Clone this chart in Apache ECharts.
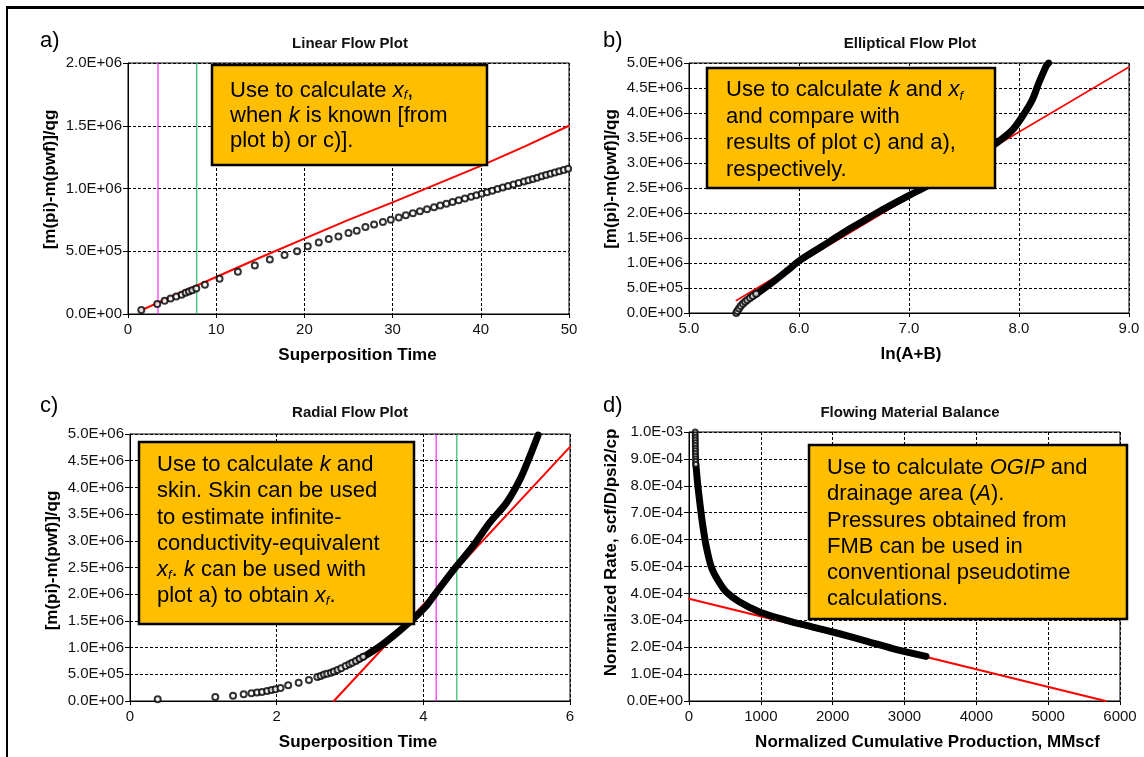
<!DOCTYPE html>
<html>
<head>
<meta charset="utf-8">
<script src="https://cdn.jsdelivr.net/npm/echarts@6/dist/echarts.min.js"></script>
<style>
html,body{margin:0;padding:0;background:#fff;}
#chart{width:1144px;height:757px;}
</style>
</head>
<body>
<div id="chart"></div>
<script>
// ---------------- DATA ----------------
// Panel a) Linear Flow Plot
const aScatterX = [1.51, 3.32, 4.15, 4.83, 5.47, 6.08, 6.53, 6.91, 7.28, 7.74, 8.72, 10.38, 12.46, 14.38, 16.08, 17.75, 19.17, 20.38, 21.63, 22.76, 23.86, 25.0, 25.93, 26.92, 27.9, 28.9, 29.8, 30.7, 31.5, 32.3, 33.1, 33.9, 34.7, 35.4, 36.1, 36.8, 37.5, 38.2, 38.9, 39.5, 40.1, 40.7, 41.3, 41.9, 42.5, 43.1, 43.7, 44.3, 44.9, 45.4, 45.9, 46.4, 46.9, 47.4, 47.9, 48.4, 48.9, 49.4, 49.9];
const aScatterY = [32000, 79000, 106000, 124000, 140000, 153000, 169000, 180000, 190000, 204000, 233000, 280000, 336000, 386000, 434000, 471000, 500000, 540000, 569000, 598000, 617000, 645000, 664000, 693000, 713000, 733000, 751000, 769000, 786000, 802000, 818000, 834000, 850000, 864000, 878000, 893000, 907000, 921000, 935000, 947000, 959000, 971000, 983000, 996000, 1008000, 1020000, 1032000, 1044000, 1056000, 1066000, 1076000, 1086000, 1097000, 1107000, 1117000, 1127000, 1137000, 1147000, 1157000];
const aRedX = [1.5, 5, 10, 15, 20, 25, 30, 35, 40, 45, 50];
const aRedY = [30000, 140000, 295000, 450000, 600000, 750000, 890000, 1035000, 1180000, 1335000, 1500000];
const aMagentaX = 3.4;
const aGreenX = 7.8;
const aXTicks = ['0', '10', '20', '30', '40', '50'];
const aYTicks = ['0.0E+00', '5.0E+05', '1.0E+06', '1.5E+06', '2.0E+06'];

// Panel b) Elliptical Flow Plot
const bStartX = [5.43, 5.44, 5.455, 5.47, 5.49, 5.51, 5.53, 5.555, 5.58, 5.61];
const bStartY = [0, 40000, 90000, 140000, 185000, 225000, 260000, 300000, 340000, 385000];
const bBandX = [5.56, 5.65, 5.76, 5.90, 6.00, 6.20, 6.40, 6.545, 6.73, 7.00, 7.15, 7.30, 7.45, 7.60, 7.79, 7.94, 8.03, 8.12, 8.18, 8.25, 8.27];
const bBandY = [310000, 440000, 615000, 860000, 1040000, 1320000, 1600000, 1790000, 2030000, 2350000, 2520000, 2700000, 2900000, 3100000, 3390000, 3660000, 3930000, 4260000, 4600000, 4950000, 5000000];
const bRedX = [5.43, 6.0, 7.0, 8.0, 9.0];
const bRedY = [250000, 1000000, 2310000, 3620000, 4920000];
const bXTicks = ['5.0', '6.0', '7.0', '8.0', '9.0'];
const bYTicks = ['0.0E+00', '5.0E+05', '1.0E+06', '1.5E+06', '2.0E+06', '2.5E+06', '3.0E+06', '3.5E+06', '4.0E+06', '4.5E+06', '5.0E+06'];

// Panel c) Radial Flow Plot
const cSparseX = [0.378, 1.163, 1.405, 1.55, 1.656, 1.733, 1.80, 1.87, 1.93, 1.985, 2.053, 2.157, 2.30, 2.44, 2.555, 2.60, 2.646, 2.69, 2.74, 2.78, 2.83, 2.88, 2.94, 2.99, 3.03, 3.08, 3.13, 3.18];
const cSparseY = [32000, 75000, 100000, 125000, 144000, 157000, 168000, 187000, 206000, 219000, 243000, 294000, 344000, 393000, 449000, 470000, 494000, 512000, 531000, 552000, 580000, 612000, 654000, 688000, 715000, 748000, 790000, 830000];
const cBandX = [3.10, 3.24, 3.444, 3.673, 3.855, 4.04, 4.175, 4.45, 4.677, 4.905, 5.133, 5.315, 5.452, 5.566];
const cBandY = [765000, 873000, 1060000, 1310000, 1530000, 1780000, 2030000, 2520000, 2900000, 3340000, 3710000, 4140000, 4580000, 4980000];
const cRedX = [2.78, 6.0];
const cRedY = [0, 4760000];
const cMagentaX = 4.175;
const cGreenX = 4.457;
const cXTicks = ['0', '2', '4', '6'];
const cYTicks = bYTicks;

// Panel d) Flowing Material Balance
const dColumnX = [86, 86, 87, 87, 88, 88, 89, 89, 90, 91, 92, 93, 95];
const dColumnY = [0.00100, 0.00099, 0.00098, 0.00097, 0.00096, 0.00095, 0.00094, 0.00093, 0.00092, 0.00091, 0.00090, 0.00089, 0.00088];
const dBandX = [95, 103, 125, 158, 195, 242, 311, 403, 520, 705, 983, 1354, 1725, 2096, 2467, 2837, 3300];
const dBandY = [0.00088, 0.000858, 0.000796, 0.000721, 0.000647, 0.000572, 0.000498, 0.000449, 0.000405, 0.000368, 0.000331, 0.000300, 0.000275, 0.000250, 0.000223, 0.000195, 0.000166];
const dRedX = [0, 5800];
const dRedY = [0.00038, 0];
const dXTicks = ['0', '1000', '2000', '3000', '4000', '5000', '6000'];
const dYTicks = ['0.0E+00', '1.0E-04', '2.0E-04', '3.0E-04', '4.0E-04', '5.0E-04', '6.0E-04', '7.0E-04', '8.0E-04', '9.0E-04', '1.0E-03'];

// ---------------- STYLE / BUILD ----------------
const FONT = 'Liberation Sans, Arial, Helvetica, sans-serif';
const pairs = (xs, ys) => xs.map((x, i) => [x, ys[i]]);

function xAxisCfg(gridIndex, min, max, interval, ticks, name, namePadLeft) {
  return {
    type: 'value', gridIndex, min, max, interval,
    name, nameLocation: 'middle', nameGap: 33,
    nameTextStyle: { fontFamily: FONT, fontSize: 17, fontWeight: 'bold', color: '#000', padding: [0, 0, 0, namePadLeft] },
    axisLine: { show: true, onZero: false, lineStyle: { color: '#000', width: 1 } },
    axisTick: { show: true, length: 4, lineStyle: { color: '#000' } },
    axisLabel: { fontFamily: FONT, fontSize: 15, color: '#111', margin: 8,
      formatter: (v, i) => ticks[i] !== undefined ? ticks[i] : '' },
    splitLine: { show: true, lineStyle: { color: '#000', type: [3, 2], width: 1 } }
  };
}
function yAxisCfg(gridIndex, min, max, interval, ticks, name, namePadLeft) {
  return {
    type: 'value', gridIndex, min, max, interval,
    name, nameLocation: 'middle', nameGap: 69,
    nameTextStyle: { fontFamily: FONT, fontSize: 17, fontWeight: 'bold', color: '#000', padding: [0, 0, 0, namePadLeft] },
    axisLine: { show: true, onZero: false, lineStyle: { color: '#000', width: 1 } },
    axisTick: { show: true, length: 5, lineStyle: { color: '#000' } },
    axisLabel: { fontFamily: FONT, fontSize: 15, color: '#111', margin: 6,
      formatter: (v, i) => ticks[i] !== undefined ? ticks[i] : '' },
    splitLine: { show: true, lineStyle: { color: '#000', type: [3, 2], width: 1 } }
  };
}
function gridCfg(left, top, width, height) {
  return { left, top, width, height, show: true, borderColor: '#000', borderWidth: 1,
    backgroundColor: '#fff', containLabel: false, outerBoundsMode: 'none' };
}
function lineSeries(idx, data, color, width, z, smooth) {
  return { type: 'line', xAxisIndex: idx, yAxisIndex: idx, data, showSymbol: false, symbol: 'none',
    smooth: smooth || false,
    lineStyle: { color, width, cap: 'round', join: 'round' }, z: z || 2, silent: true };
}
function circleSeries(idx, data, size, z) {
  return { type: 'scatter', xAxisIndex: idx, yAxisIndex: idx, data, symbol: 'emptyCircle', symbolSize: size,
    itemStyle: { color: '#000', borderColor: '#000', borderWidth: 1 }, z: z || 4, silent: true };
}
function vline(idx, x, ymin, ymax, color) {
  return lineSeries(idx, [[x, ymin], [x, ymax]], color, 1, 1);
}
function titleCfg(text, cx, top) {
  return { text, left: cx, top, textAlign: 'center', padding: 0,
    textStyle: { fontFamily: FONT, fontSize: 15, fontWeight: 'bold', color: '#111' } };
}

const rich = {
  i: { fontFamily: FONT, fontSize: 22, fontStyle: 'italic', fill: '#000' },
  sub: { fontFamily: FONT, fontSize: 13, fontStyle: 'italic', fill: '#000', verticalAlign: 'bottom', padding: [0, 0, 1, 0] }
};
function noteBox(x, y, w, h, padX, padY, lineHeight, text) {
  const r = {};
  Object.keys(rich).forEach(k => { r[k] = Object.assign({ lineHeight }, rich[k]); });
  return {
    type: 'group', x, y, z: 100,
    children: [
      { type: 'rect', shape: { x: 0, y: 0, width: w, height: h },
        style: { fill: '#FFBF00', stroke: '#000', lineWidth: 2.5 }, z: 100 },
      { type: 'text', x: padX, y: padY, z: 101,
        style: { text, rich: r, fontFamily: FONT, fontSize: 22, fill: '#000', lineHeight,
          verticalAlign: 'top', align: 'left' } }
    ]
  };
}
function panelLabel(text, x, y) {
  return { type: 'text', x, y, z: 100,
    style: { text, fontFamily: FONT, fontSize: 22, fill: '#000', verticalAlign: 'top', align: 'left' } };
}

const option = {
  animation: false,
  backgroundColor: '#fff',
  title: [
    titleCfg('Linear Flow Plot', 350, 36),
    titleCfg('Elliptical Flow Plot', 910, 36),
    titleCfg('Radial Flow Plot', 350, 405),
    titleCfg('Flowing Material Balance', 910, 405)
  ],
  grid: [
    gridCfg(128, 63, 441, 251),
    gridCfg(689, 63, 440, 250),
    gridCfg(130, 434, 440, 267),
    gridCfg(689, 432, 431, 269)
  ],
  xAxis: [
    xAxisCfg(0, 0, 50, 10, aXTicks, 'Superposition Time', 18),
    xAxisCfg(1, 5, 9, 1, bXTicks, 'ln(A+B)', 4),
    xAxisCfg(2, 0, 6, 2, cXTicks, 'Superposition Time', 16),
    xAxisCfg(3, 0, 6000, 1000, dXTicks, 'Normalized Cumulative Production, MMscf', 46)
  ],
  yAxis: [
    yAxisCfg(0, 0, 2000000, 500000, aYTicks, '[m(pi)-m(pwf)]/qg', 18),
    yAxisCfg(1, 0, 5000000, 500000, bYTicks, '[m(pi)-m(pwf)]/qg', 18),
    yAxisCfg(2, 0, 5000000, 500000, cYTicks, '[m(pi)-m(pwf)]/qg', 14),
    yAxisCfg(3, 0, 0.001, 0.0001, dYTicks, 'Normalized Rate, scf/D/psi2/cp', 28)
  ],
  series: [
    // a
    vline(0, aMagentaX, 0, 2000000, '#FF00FF'),
    vline(0, aGreenX, 0, 2000000, '#00B050'),
    lineSeries(0, pairs(aRedX, aRedY), '#FF0000', 2, 2),
    circleSeries(0, pairs(aScatterX, aScatterY), 6, 4),
    // b
    lineSeries(1, pairs(bRedX, bRedY), '#FF0000', 1.5, 2),
    lineSeries(1, pairs(bBandX, bBandY), '#000', 7, 3, 0.3),
    circleSeries(1, pairs(bStartX, bStartY), 6, 4),
    // c
    vline(2, cMagentaX, 0, 5000000, '#FF00FF'),
    vline(2, cGreenX, 0, 5000000, '#00B050'),
    lineSeries(2, pairs(cRedX, cRedY), '#FF0000', 2, 2),
    lineSeries(2, pairs(cBandX, cBandY), '#000', 7, 3, 0.3),
    circleSeries(2, pairs(cSparseX, cSparseY), 6, 4),
    // d
    lineSeries(3, pairs(dRedX, dRedY), '#FF0000', 2, 2),
    lineSeries(3, pairs(dBandX, dBandY), '#000', 7, 3, 0.3),
    circleSeries(3, pairs(dColumnX, dColumnY), 5, 4)
  ],
  graphic: [
    { type: 'line', shape: { x1: 6, y1: 7.5, x2: 1144, y2: 7.5 }, style: { stroke: '#000', lineWidth: 3 }, z: 100 },
    { type: 'line', shape: { x1: 7, y1: 6, x2: 7, y2: 757 }, style: { stroke: '#000', lineWidth: 2 }, z: 100 },
    panelLabel('a)', 40, 30),
    panelLabel('b)', 603, 30),
    panelLabel('c)', 40, 395),
    panelLabel('d)', 603, 395),
    noteBox(212, 65, 275, 100, 18, 13, 25,
      'Use to calculate {i|x}{sub|f},\nwhen {i|k} is known [from\nplot b) or c)].'),
    noteBox(707, 68, 288, 120, 19, 9, 26.5,
      'Use to calculate {i|k} and {i|x}{sub|f}\nand compare with\nresults of plot c) and a),\nrespectively.'),
    noteBox(139, 442, 275, 182, 18, 10, 26.2,
      'Use to calculate {i|k} and\nskin. Skin can be used\nto estimate infinite-\nconductivity-equivalent\n{i|x}{sub|f}. {i|k} can be used with\nplot a) to obtain {i|x}{sub|f}.'),
    noteBox(809, 445, 318, 174, 18, 10, 26.2,
      'Use to calculate {i|OGIP} and\ndrainage area ({i|A}).\nPressures obtained from\nFMB can be used in\nconventional pseudotime\ncalculations.')
  ]
};

const chart = echarts.init(document.getElementById('chart'), null, { renderer: 'canvas' });
chart.setOption(option);
</script>
</body>
</html>
